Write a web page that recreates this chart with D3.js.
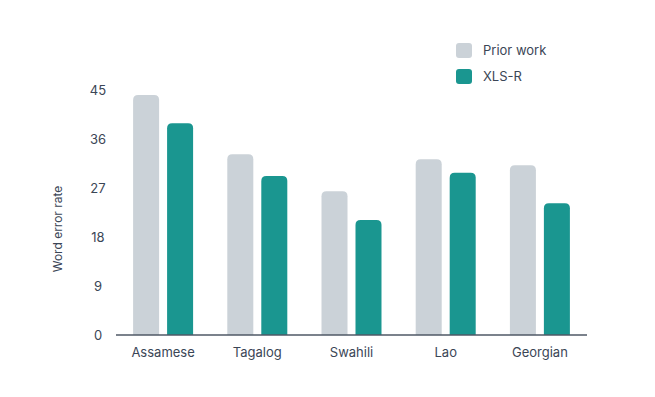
<!DOCTYPE html>
<meta charset="utf-8">
<style>
  body { margin: 0; background: #fff; }
  text { font-family: "Inter", "Open Sans", sans-serif; fill: #3b4656; }
</style>
<script src="https://d3js.org/d3.v7.min.js"></script>
<div id="chart"></div>
<script>
// data
var languages = ["Assamese", "Tagalog", "Swahili", "Lao", "Georgian"];
var series = ["Prior work", "XLS-R"];
var priorWork = [44.1, 33.2, 26.4, 32.3, 31.2];
var xlsr = [38.9, 29.2, 21.1, 29.8, 24.2];
var yTicks = [0, 9, 18, 27, 36, 45];
var colors = ["#cbd2d8", "#1a9690"];

var W = 655, H = 397;
var svg = d3.select("#chart").append("svg")
  .attr("width", W).attr("height", H);

var x0 = d3.scaleBand().domain(languages).range([116, 587]).padding(0);
var x1 = d3.scaleBand().domain(series)
  .range([x0.bandwidth() / 2 - 30, x0.bandwidth() / 2 + 30])
  .paddingInner(0.235);
var y = d3.scaleLinear().domain([0, 45]).range([335, 90]);
var color = d3.scaleOrdinal().domain(series).range(colors);

// rounded-top bar path
function barPath(bx, by, bw, bh, r) {
  r = Math.min(r, bh);
  return "M" + bx + "," + (by + bh) +
    "V" + (by + r) +
    "Q" + bx + "," + by + " " + (bx + r) + "," + by +
    "H" + (bx + bw - r) +
    "Q" + (bx + bw) + "," + by + " " + (bx + bw) + "," + (by + r) +
    "V" + (by + bh) + "Z";
}

var rows = languages.map(function(l, i) {
  return { lang: l, values: [{ key: series[0], value: priorWork[i] }, { key: series[1], value: xlsr[i] }] };
});

svg.append("g").selectAll("g")
  .data(rows).enter().append("g")
    .attr("transform", function(d) { return "translate(" + x0(d.lang) + ",0)"; })
  .selectAll("path")
  .data(function(d) { return d.values; })
  .enter().append("path")
    .attr("d", function(d) {
      return barPath(x1(d.key), y(d.value), x1.bandwidth(), y(0) - y(d.value), 5);
    })
    .attr("fill", function(d) { return color(d.key); });

// baseline
svg.append("line")
  .attr("x1", 116).attr("x2", 587)
  .attr("y1", y(0)).attr("y2", y(0))
  .attr("stroke", "#4f5966").attr("stroke-width", 1.5);

// x labels
svg.append("g")
  .attr("transform", "translate(0," + y(0) + ")")
  .call(d3.axisBottom(x0).tickSize(0).tickPadding(13))
  .call(function(g) { g.select(".domain").remove(); })
  .selectAll("text")
    .style("font-size", "13px")
    .style("font-family", '"Inter", "Open Sans", sans-serif')
    .attr("fill", "#3b4656");

// y labels
svg.append("g").selectAll("text")
  .data(yTicks).enter().append("text")
    .attr("x", 98)
    .attr("y", function(d) { return y(d); })
    .attr("dy", "0.35em")
    .attr("text-anchor", "middle")
    .style("font-size", "13px")
    .text(function(d) { return d; });

// y title
svg.append("text")
  .attr("transform", "translate(62,229) rotate(-90)")
  .attr("text-anchor", "middle")
  .style("font-size", "12px")
  .text("Word error rate");

// legend
var legend = svg.append("g").selectAll("g")
  .data(series).enter().append("g")
    .attr("transform", function(d, i) { return "translate(456," + (43 + i * 26) + ")"; });
legend.append("rect")
  .attr("width", 16).attr("height", 15).attr("rx", 3)
  .attr("fill", function(d) { return color(d); });
legend.append("text")
  .attr("x", 27).attr("y", 7.5).attr("dy", "0.35em")
  .style("font-size", "13px")
  .text(function(d) { return d; });
</script>
